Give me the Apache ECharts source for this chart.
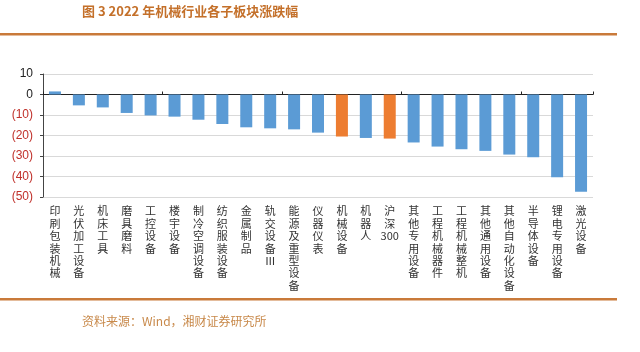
<!DOCTYPE html>
<html>
<head>
<meta charset="utf-8">
<script src="https://cdn.jsdelivr.net/npm/echarts@6/dist/echarts.min.js"></script>
<style>
  html, body { margin: 0; padding: 0; background: #fff; }
  #main { width: 640px; height: 352px; }
</style>
</head>
<body>
<div id="main"></div>
<script>
// 板块名称
const categories = ['印刷包装机械', '光伏加工设备', '机床工具', '磨具磨料', '工控设备', '楼宇设备',
  '制冷空调设备', '纺织服装设备', '金属制品', '轨交设备Ⅲ', '能源及重型设备', '仪器仪表',
  '机械设备', '机器人', '沪深300', '其他专用设备', '工程机械器件', '工程机械整机',
  '其他通用设备', '其他自动化设备', '半导体设备', '锂电专用设备', '激光设备']
// 2022 涨跌幅 (%)
const changes = [1.5, -5.3, -6.3, -9.0, -10.2, -10.8, -12.3, -14.4, -16.0, -16.5, -17.0, -18.6,
  -20.5, -21.2, -21.5, -23.4, -25.4, -26.7, -27.5, -29.3, -30.6, -40.4, -47.4]
// 对比项（橙色）
const highlighted = ['机械设备', '沪深300']
const yTicks = [-50, -40, -30, -20, -10, 0, 10]

const blue = '#5b9bd5'
const orange = '#ed7d31'
const brown = '#c4702a'

var chartDom = document.getElementById('main')
var myChart = echarts.init(chartDom)

function verticalText(name) {
  // 竖排：每个汉字一行，数字保持在一起
  return name.match(/[0-9]+|./g).join('\n')
}

var option = {
  backgroundColor: '#fff',
  animation: false,
  graphic: [
    {
      type: 'text', left: 82, top: 5,
      style: { text: '图 3 2022 年机械行业各子板块涨跌幅', fill: brown, font: 'bold 13px "Noto Sans CJK SC"' }
    },
    { type: 'rect', shape: { x: 0, y: 33, width: 617, height: 2.5 }, style: { fill: '#c97a3a' } },
    { type: 'rect', shape: { x: 0, y: 298, width: 617, height: 2.5 }, style: { fill: '#c97a3a' } },
    {
      type: 'text', left: 82, top: 315,
      style: { text: '资料来源：Wind，湘财证券研究所', fill: '#c8894a', font: '12px "Noto Sans CJK SC"' }
    }
  ],
  grid: { left: 43, right: 47, top: 74, bottom: 155 },
  xAxis: [
    {
      type: 'category',
      data: categories,
      position: 'bottom',
      axisLine: { show: false, onZero: false },
      axisTick: { show: false },
      axisLabel: {
        interval: 0,
        margin: 8,
        verticalAlign: 'top',
        lineHeight: 12.4,
        fontSize: 11,
        fontFamily: 'Noto Sans CJK SC',
        color: '#333',
        formatter: verticalText
      }
    },
    {
      type: 'category',
      data: categories,
      position: 'bottom',
      axisLine: { onZero: true, onZeroAxisIndex: 0, lineStyle: { color: '#222', width: 1 } },
      axisTick: { show: true, inside: true, length: 3, lineStyle: { color: '#222' } },
      axisLabel: { show: false }
    }
  ],
  yAxis: {
    type: 'value',
    min: yTicks[0],
    max: yTicks[yTicks.length - 1],
    interval: 10,
    axisLine: { show: true, lineStyle: { color: '#444' } },
    axisTick: { show: true, length: 3, lineStyle: { color: '#444' } },
    splitLine: { lineStyle: { color: '#d9d9d9' } },
    axisLabel: {
      margin: 10,
      fontSize: 12,
      fontFamily: 'Liberation Sans',
      formatter: v => v < 0 ? '(' + Math.abs(v) + ')' : String(v),
      color: v => (Number(v) < 0 || String(v).indexOf('(') === 0) ? '#c0302a' : '#222'
    }
  },
  series: [
    {
      type: 'bar',
      xAxisIndex: 0,
      barWidth: 12,
      data: changes.map((v, i) => ({
        value: v,
        itemStyle: { color: highlighted.includes(categories[i]) ? orange : blue }
      }))
    }
  ]
}

option && myChart.setOption(option)
</script>
</body>
</html>
